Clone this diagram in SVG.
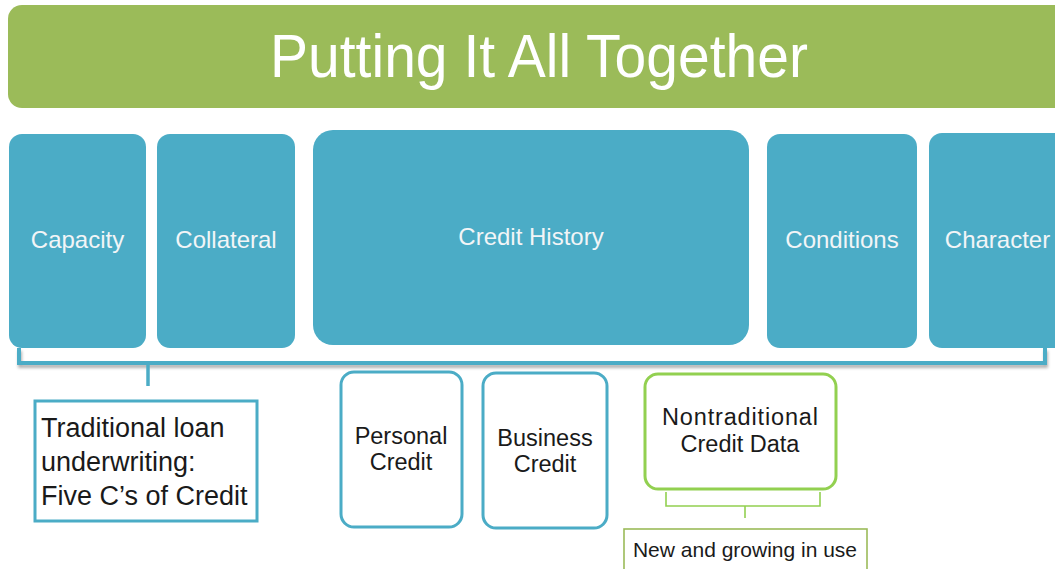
<svg xmlns="http://www.w3.org/2000/svg" width="1055" height="569" viewBox="0 0 1055 569">
  <defs>
    <filter id="sh" x="-5%" y="-50%" width="110%" height="200%">
      <feDropShadow dx="1" dy="3" stdDeviation="1.5" flood-color="#000" flood-opacity="0.3"/>
    </filter>
  </defs>
  <style>
    text { font-family: "Liberation Sans", Arial, sans-serif; }
    .blue { fill: #4BACC6; }
    .blab { fill: #F2F5F7; font-size: 24px; text-anchor: middle; }
    .outB { fill: #FFFFFF; stroke: #4BACC6; stroke-width: 3; }
    .outG { fill: #FFFFFF; stroke: #92D050; stroke-width: 3; }
    .dark { fill: #1A1A1A; font-size: 23.5px; text-anchor: middle; }
    .trad { fill: #1A1A1A; font-size: 27px; }
    .brB { fill: none; stroke: #4BACC6; stroke-width: 4; }
    .brG { fill: none; stroke: #92D050; stroke-width: 1.6; }
  </style>

  <g id="title">
    <rect x="8" y="5" width="1070" height="103" rx="14" fill="#9BBB59"/>
    <text x="539" y="77" font-size="61" fill="#FFFFFF" text-anchor="middle" textLength="538" lengthAdjust="spacingAndGlyphs">Putting It All Together</text>
  </g>

  <g id="capacity">
    <rect class="blue" x="9" y="134" width="137" height="214" rx="13"/>
    <text class="blab" x="77.5" y="248">Capacity</text>
  </g>
  <g id="collateral">
    <rect class="blue" x="157" y="134" width="138" height="214" rx="13"/>
    <text class="blab" x="226" y="248">Collateral</text>
  </g>
  <g id="credit-history">
    <rect class="blue" x="313" y="130" width="436" height="215" rx="20"/>
    <text class="blab" x="531" y="245">Credit History</text>
  </g>
  <g id="conditions">
    <rect class="blue" x="767" y="134" width="150" height="214" rx="13"/>
    <text class="blab" x="842" y="248">Conditions</text>
  </g>
  <g id="character">
    <rect class="blue" x="929" y="133" width="140" height="215" rx="13"/>
    <text class="blab" x="997.5" y="248">Character</text>
  </g>

  <g id="connectors">
    <path class="brB" filter="url(#sh)" d="M19,348 L19,363 L1045,363 L1045,348"/>
    <path d="M148,363 L148,386" stroke="#4BACC6" stroke-width="3.5" fill="none"/>
    <path class="brG" d="M666,492 L666,506 L820,506 L820,492"/>
    <path class="brG" d="M745,506 L745,518"/>
  </g>

  <g id="traditional">
    <rect class="outB" x="35" y="401" width="222" height="120"/>
    <text class="trad" x="41" y="437">Traditional loan</text>
    <text class="trad" x="41" y="471">underwriting:</text>
    <text class="trad" x="41" y="505">Five C’s of Credit</text>
  </g>

  <g id="personal-credit">
    <rect class="outB" x="341" y="372" width="121" height="155" rx="13"/>
    <text class="dark" x="401" y="444">Personal</text>
    <text class="dark" x="401" y="470">Credit</text>
  </g>

  <g id="business-credit">
    <rect class="outB" x="483" y="373" width="124" height="155" rx="13"/>
    <text class="dark" x="545" y="446">Business</text>
    <text class="dark" x="545" y="472">Credit</text>
  </g>

  <g id="nontraditional">
    <rect class="outG" x="645" y="374" width="191" height="115" rx="13"/>
    <text class="dark" x="740" y="425" textLength="156" lengthAdjust="spacing">Nontraditional</text>
    <text class="dark" x="740" y="452">Credit Data</text>
  </g>

  <g id="new-growing">
    <rect x="624" y="529" width="243" height="45" fill="#FFFFFF" stroke="#9BBB59" stroke-width="1.6"/>
    <text x="745" y="557" font-size="21" fill="#1A1A1A" text-anchor="middle">New and growing in use</text>
  </g>
</svg>
